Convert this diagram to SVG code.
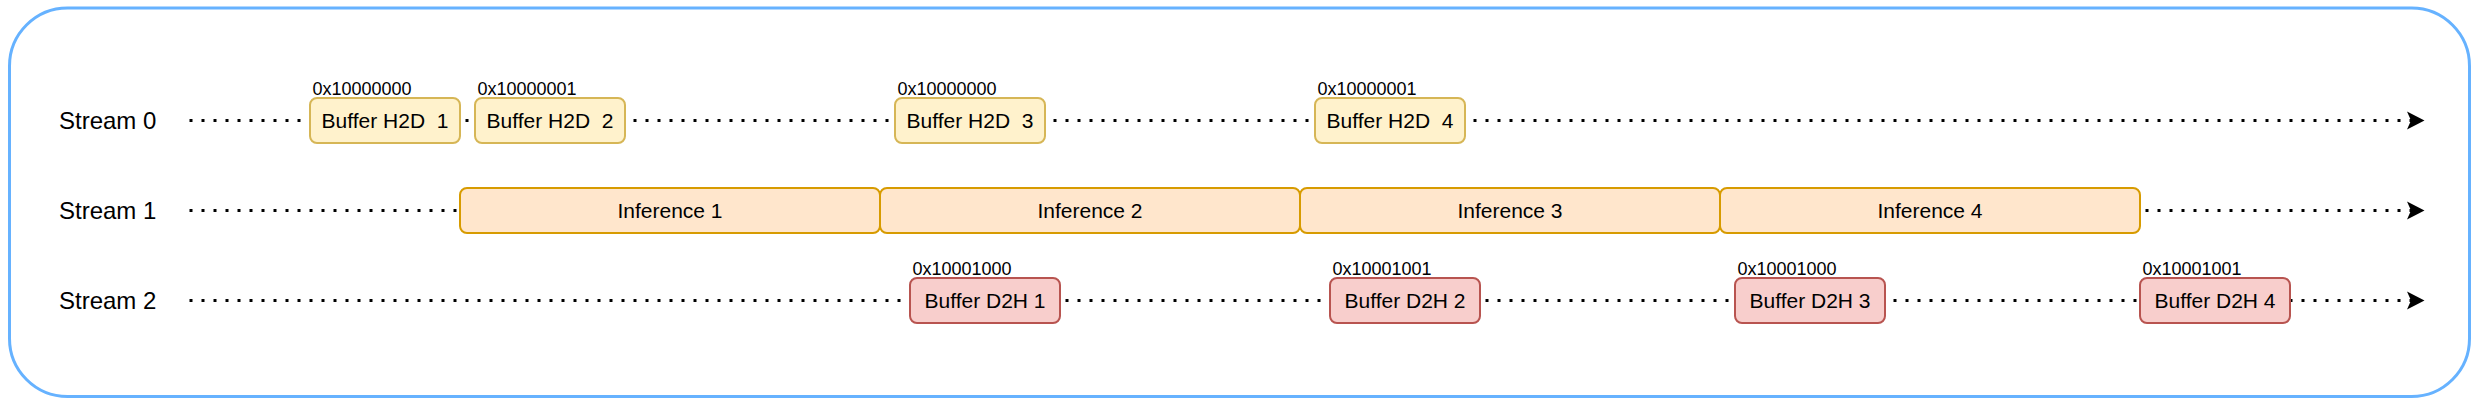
<svg xmlns="http://www.w3.org/2000/svg" width="2479" height="405" viewBox="0 0 2479 405">
<style>
text{font-family:"Liberation Sans",Arial,sans-serif;fill:#000;white-space:pre}
.lbl{font-size:24px}
.hex{font-size:18px}
.bt{font-size:21px;text-anchor:middle}
.h2d{fill:#FFF2CC;stroke:#D6B656;stroke-width:2}
.inf{fill:#FFE6CC;stroke:#D79B00;stroke-width:2}
.d2h{fill:#F8CECC;stroke:#B85450;stroke-width:2}
.ln{stroke:#000;stroke-width:3;stroke-dasharray:3 9;fill:none}
</style>
<defs>
<marker id="arr" markerUnits="userSpaceOnUse" markerWidth="20" markerHeight="20" viewBox="0 -10 20 20" refX="4" refY="0" orient="auto" overflow="visible">
<path d="M0,-9 L17.5,0 L0,9 L4,0 Z" fill="#000"/>
</marker>
</defs>
<rect id="frame" x="9.5" y="8" width="2460" height="388.5" rx="58" ry="58" fill="#fff" stroke="#66B2FF" stroke-width="3"/>
<g id="labels">
<text class="lbl" x="59" y="129">Stream 0</text>
<text class="lbl" x="59" y="219">Stream 1</text>
<text class="lbl" x="59" y="309">Stream 2</text>
</g>
<g id="connectors">
<line class="ln" x1="189.5" y1="120.5" x2="2411" y2="120.5" marker-end="url(#arr)"/>
<line class="ln" x1="189.5" y1="210.5" x2="2411" y2="210.5" marker-end="url(#arr)"/>
<line class="ln" x1="189.5" y1="300.5" x2="2411" y2="300.5" marker-end="url(#arr)"/>
</g>
<g id="h2d1"><rect class="h2d" x="310" y="98" width="150" height="45" rx="7"/><text class="bt" x="385" y="128" xml:space="preserve">Buffer H2D  1</text><text class="hex" x="312.5" y="95">0x10000000</text></g>
<g id="h2d2"><rect class="h2d" x="475" y="98" width="150" height="45" rx="7"/><text class="bt" x="550" y="128" xml:space="preserve">Buffer H2D  2</text><text class="hex" x="477.5" y="95">0x10000001</text></g>
<g id="h2d3"><rect class="h2d" x="895" y="98" width="150" height="45" rx="7"/><text class="bt" x="970" y="128" xml:space="preserve">Buffer H2D  3</text><text class="hex" x="897.5" y="95">0x10000000</text></g>
<g id="h2d4"><rect class="h2d" x="1315" y="98" width="150" height="45" rx="7"/><text class="bt" x="1390" y="128" xml:space="preserve">Buffer H2D  4</text><text class="hex" x="1317.5" y="95">0x10000001</text></g>
<g id="inf1"><rect class="inf" x="460" y="188" width="420" height="45" rx="7"/><text class="bt" x="670" y="218">Inference 1</text></g>
<g id="inf2"><rect class="inf" x="880" y="188" width="420" height="45" rx="7"/><text class="bt" x="1090" y="218">Inference 2</text></g>
<g id="inf3"><rect class="inf" x="1300" y="188" width="420" height="45" rx="7"/><text class="bt" x="1510" y="218">Inference 3</text></g>
<g id="inf4"><rect class="inf" x="1720" y="188" width="420" height="45" rx="7"/><text class="bt" x="1930" y="218">Inference 4</text></g>
<g id="d2h1"><rect class="d2h" x="910" y="278" width="150" height="45" rx="7"/><text class="bt" x="985" y="308">Buffer D2H 1</text><text class="hex" x="912.5" y="275">0x10001000</text></g>
<g id="d2h2"><rect class="d2h" x="1330" y="278" width="150" height="45" rx="7"/><text class="bt" x="1405" y="308">Buffer D2H 2</text><text class="hex" x="1332.5" y="275">0x10001001</text></g>
<g id="d2h3"><rect class="d2h" x="1735" y="278" width="150" height="45" rx="7"/><text class="bt" x="1810" y="308">Buffer D2H 3</text><text class="hex" x="1737.5" y="275">0x10001000</text></g>
<g id="d2h4"><rect class="d2h" x="2140" y="278" width="150" height="45" rx="7"/><text class="bt" x="2215" y="308">Buffer D2H 4</text><text class="hex" x="2142.5" y="275">0x10001001</text></g>
</svg>
